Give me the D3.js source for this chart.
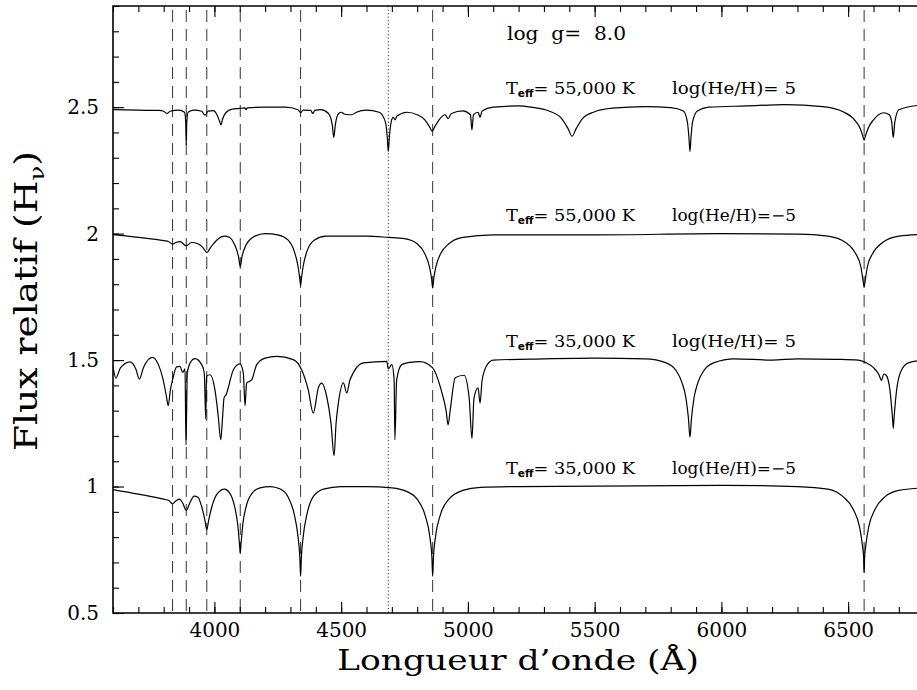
<!DOCTYPE html>
<html><head><meta charset="utf-8">
<script src="https://cdn.jsdelivr.net/npm/d3@7"></script>
<style>
body{margin:0;background:#fff}
svg{display:block}
text{font-family:"DejaVu Serif",serif;fill:#000}
</style>
</head><body>
<svg id="c" width="917" height="690"></svg>
<script>
// ---------- data ----------
const xTicksMajor = [4000,4500,5000,5500,6000,6500];
const xTickLabels = ["4000","4500","5000","5500","6000","6500"];
const yTicksMajor = [0.5,1,1.5,2,2.5];
const yTickLabels = ["0.5","1","1.5","2","2.5"];
const balmerLines = [3835,3889,3970,4102,4340,4861,6563];
const heIILines = [4686];
const modelTeff = ["55,000","55,000","35,000","35,000"];
const modelHeH = ["= 5","=\u22125","= 5","=\u22125"];
const modelLevel = [2.5,2.0,1.5,1.0];

// Teff=55000, log He/H = 5
const spec55He = [
[3600,2.49],[3700,2.488],[3780,2.487],[3800,2.484],[3813,2.475],[3825,2.484],[3860,2.488],
[3882,2.48],[3887,2.44],[3889,2.35],[3891,2.44],[3896,2.48],[3920,2.488],[3950,2.484],
[3963,2.468],[3975,2.484],[3995,2.486],[4010,2.47],[4020,2.445],[4026,2.43],[4032,2.452],
[4045,2.478],[4070,2.492],[4100,2.495],[4120,2.497],[4125,2.49],[4130,2.497],[4200,2.5],
[4280,2.5],[4330,2.49],[4340,2.478],[4350,2.488],[4380,2.487],[4388,2.475],[4396,2.487],
[4420,2.49],[4450,2.475],[4465,2.43],[4471,2.38],[4477,2.43],[4490,2.475],[4500,2.48],
[4515,2.472],[4541,2.47],[4560,2.48],[4600,2.488],[4650,2.48],[4675,2.44],[4682,2.38],
[4686,2.325],[4690,2.38],[4697,2.44],[4705,2.46],[4713,2.45],[4720,2.465],[4760,2.48],
[4800,2.47],[4830,2.45],[4850,2.42],[4859,2.405],[4868,2.42],[4890,2.455],[4910,2.47],
[4922,2.455],[4935,2.475],[4980,2.485],[5010,2.47],[5016,2.41],[5022,2.47],[5040,2.48],
[5048,2.46],[5056,2.485],[5100,2.5],[5200,2.505],[5250,2.5],[5320,2.485],[5370,2.455],
[5395,2.415],[5411,2.385],[5427,2.415],[5452,2.455],[5500,2.482],[5570,2.496],[5700,2.502],
[5800,2.498],[5850,2.485],[5866,2.44],[5872,2.38],[5876,2.325],[5880,2.38],[5886,2.44],
[5905,2.485],[5950,2.5],[6100,2.505],[6250,2.51],[6400,2.502],[6480,2.482],[6525,2.45],
[6548,2.415],[6558,2.385],[6563,2.37],[6568,2.385],[6578,2.415],[6600,2.45],[6640,2.478],
[6662,2.47],[6672,2.44],[6678,2.38],[6684,2.44],[6700,2.49],[6800,2.51]
];
// Teff=55000, log He/H = -5
const spec55H = [
[3600,1.996],[3700,1.985],[3800,1.972],[3820,1.968],[3835,1.958],[3850,1.966],[3865,1.968],
[3889,1.952],[3910,1.965],[3935,1.96],[3955,1.945],[3970,1.925],[3985,1.945],[4010,1.975],
[4040,1.99],[4060,1.985],[4080,1.955],[4095,1.91],[4102,1.87],[4109,1.91],[4125,1.955],
[4160,1.99],[4200,2.0],[4250,1.995],[4290,1.975],[4315,1.93],[4330,1.87],[4337,1.82],
[4340,1.795],[4343,1.82],[4350,1.87],[4365,1.93],[4395,1.975],[4440,1.99],[4600,1.99],
[4686,1.985],[4750,1.98],[4800,1.96],[4830,1.92],[4848,1.87],[4857,1.82],[4861,1.785],
[4865,1.82],[4874,1.87],[4892,1.92],[4925,1.96],[4980,1.985],[5100,1.995],[5500,1.995],
[6000,2.0],[6300,1.998],[6420,1.99],[6490,1.965],[6530,1.92],[6550,1.87],[6558,1.82],
[6563,1.79],[6568,1.82],[6576,1.87],[6596,1.92],[6636,1.965],[6700,1.99],[6800,1.997]
];
// Teff=35000, log He/H = 5
const spec35He = [
[3600,1.475],[3611,1.429],[3630,1.47],[3667,1.493],[3690,1.465],[3704,1.425],[3720,1.47],
[3755,1.511],[3780,1.48],[3798,1.422],[3810,1.36],[3818,1.32],[3826,1.38],[3835,1.422],
[3851,1.473],[3864,1.475],[3875,1.451],[3884,1.465],[3888,1.165],[3893,1.449],[3905,1.49],
[3923,1.506],[3950,1.482],[3960,1.449],[3966,1.267],[3969,1.436],[3983,1.442],[4002,1.383],
[4015,1.28],[4025,1.185],[4032,1.27],[4038,1.35],[4046,1.363],[4075,1.462],[4101,1.485],
[4114,1.449],[4121,1.32],[4127,1.409],[4147,1.422],[4167,1.482],[4200,1.508],[4246,1.515],
[4311,1.502],[4344,1.462],[4370,1.383],[4390,1.29],[4410,1.39],[4423,1.409],[4443,1.356],
[4460,1.25],[4472,1.122],[4480,1.25],[4489,1.33],[4509,1.41],[4522,1.37],[4535,1.422],
[4588,1.489],[4680,1.495],[4686,1.465],[4700,1.482],[4709,1.422],[4712,1.185],[4719,1.422],
[4739,1.482],[4772,1.491],[4811,1.494],[4860,1.47],[4895,1.38],[4914,1.3],[4922,1.244],
[4930,1.3],[4950,1.43],[4985,1.44],[5005,1.35],[5016,1.19],[5024,1.35],[5040,1.39],
[5048,1.33],[5056,1.42],[5075,1.48],[5100,1.5],[5300,1.505],[5500,1.508],[5700,1.505],
[5780,1.49],[5820,1.46],[5845,1.41],[5860,1.35],[5870,1.27],[5876,1.195],[5882,1.27],
[5892,1.35],[5907,1.41],[5932,1.46],[5972,1.49],[6050,1.505],[6200,1.5],[6300,1.505],
[6450,1.503],[6540,1.5],[6570,1.49],[6600,1.47],[6620,1.445],[6632,1.42],[6640,1.445],
[6650,1.44],[6665,1.38],[6675,1.27],[6678,1.23],[6681,1.27],[6691,1.38],[6710,1.46],
[6740,1.49],[6800,1.5]
];
// Teff=35000, log He/H = -5
const spec35H = [
[3600,0.988],[3700,0.97],[3800,0.95],[3820,0.945],[3835,0.932],[3850,0.945],[3862,0.95],
[3875,0.935],[3889,0.905],[3903,0.935],[3920,0.962],[3935,0.958],[3950,0.92],[3962,0.87],
[3970,0.83],[3978,0.87],[3990,0.92],[4010,0.97],[4040,0.99],[4060,0.975],[4080,0.92],
[4092,0.85],[4100,0.76],[4102,0.738],[4104,0.76],[4112,0.85],[4125,0.92],[4150,0.975],
[4180,0.995],[4220,1.0],[4260,0.99],[4290,0.96],[4315,0.89],[4330,0.8],[4337,0.72],
[4340,0.645],[4343,0.72],[4350,0.8],[4365,0.89],[4390,0.96],[4430,0.99],[4500,1.0],
[4600,1.0],[4700,0.995],[4760,0.98],[4800,0.95],[4830,0.89],[4850,0.8],[4858,0.72],
[4861,0.645],[4864,0.72],[4872,0.8],[4892,0.89],[4925,0.95],[4980,0.985],[5050,0.997],
[5200,1.0],[6000,1.005],[6300,1.0],[6420,0.99],[6480,0.96],[6520,0.91],[6545,0.84],
[6556,0.77],[6561,0.72],[6563,0.66],[6565,0.72],[6570,0.77],[6581,0.84],[6606,0.91],
[6646,0.96],[6700,0.985],[6800,0.995]
];
const spectra = [spec55He, spec55H, spec35He, spec35H];

// ---------- layout ----------
const svg = d3.select("#c");
const L = 113, B = 613, T = 6;
const x = d3.scaleLinear().domain([3600, 6800]).range([L, L + 3200*0.2535]);
const y = d3.scaleLinear().domain([0.5, 2.9]).range([B, T]);
const R = x.range()[1];

const defs = svg.append("defs");
defs.append("clipPath").attr("id","clip").append("rect")
  .attr("x",L).attr("y",T).attr("width",R-L).attr("height",B-T);

// reference lines
const g = svg.append("g");
g.selectAll(".bal").data(balmerLines).join("line")
  .attr("x1",d=>x(d)).attr("x2",d=>x(d)).attr("y1",T+4).attr("y2",B)
  .attr("stroke","#333").attr("stroke-width",1).attr("stroke-dasharray","12,7");
g.selectAll(".he2").data(heIILines).join("line")
  .attr("x1",d=>x(d)).attr("x2",d=>x(d)).attr("y1",T).attr("y2",B)
  .attr("stroke","#333").attr("stroke-width",1).attr("stroke-dasharray","1.2,2.3");

// spectra
const line = d3.line().x(d=>x(d[0])).y(d=>y(d[1])).curve(d3.curveMonotoneX);
svg.append("g").attr("clip-path","url(#clip)")
  .selectAll("path").data(spectra).join("path")
  .attr("d",line).attr("fill","none").attr("stroke","#000").attr("stroke-width",1.2);

// axes
const minorX = d3.range(3600, 6801, 100);
const minorY = d3.range(0.5, 2.91, 0.1).map(v=>+v.toFixed(2));
function styleAxis(sel){
  sel.select(".domain").remove();
  sel.selectAll(".tick line").attr("stroke","#000").attr("stroke-width",1.1);
  sel.selectAll("text").style("font-family","'DejaVu Serif',serif").style("font-size","20px").attr("fill","#000");
}
svg.append("g").attr("transform",`translate(0,${B})`)
  .call(d3.axisBottom(x).tickValues(minorX).tickSize(-6).tickFormat("")).call(styleAxis);
svg.append("g").attr("transform",`translate(0,${B})`)
  .call(d3.axisBottom(x).tickValues(xTicksMajor).tickSize(-11).tickPadding(10)
    .tickFormat((d,i)=>xTickLabels[i])).call(styleAxis);
svg.append("g").attr("transform",`translate(0,${T})`)
  .call(d3.axisTop(x).tickValues(minorX).tickSize(-6).tickFormat("")).call(styleAxis);
svg.append("g").attr("transform",`translate(0,${T})`)
  .call(d3.axisTop(x).tickValues(xTicksMajor).tickSize(-11).tickFormat("")).call(styleAxis);
svg.append("g").attr("transform",`translate(${L},0)`)
  .call(d3.axisLeft(y).tickValues(minorY).tickSize(-6).tickFormat("")).call(styleAxis);
svg.append("g").attr("transform",`translate(${L},0)`)
  .call(d3.axisLeft(y).tickValues(yTicksMajor).tickSize(-11).tickPadding(14)
    .tickFormat((d,i)=>yTickLabels[i])).call(styleAxis);

// frame
svg.append("path").attr("d",`M${R},${T}H${L}V${B}H${R}`)
  .attr("fill","none").attr("stroke","#000").attr("stroke-width",1.6);

// annotations
svg.append("text").attr("x",507).attr("y",40).style("font-size","18px")
  .attr("textLength",119).attr("lengthAdjust","spacingAndGlyphs")
  .style("white-space","pre").text("log  g=  8.0");

modelLevel.forEach((lv,i)=>{
  const by = y(lv) - 13;
  const t = svg.append("text").attr("x",506).attr("y",by).style("font-size","17px").style("white-space","pre")
    .attr("textLength",129).attr("lengthAdjust","spacingAndGlyphs");
  t.append("tspan").text("T");
  t.append("tspan").attr("dy",3).style("font-size","10px").style("font-weight","bold").style("font-family","'DejaVu Sans',sans-serif").text("eff");
  t.append("tspan").attr("dy",-3).text("= " + modelTeff[i] + " K");
  svg.append("text").attr("x",672).attr("y",by).style("font-size","16px").style("white-space","pre")
    .attr("textLength",124).attr("lengthAdjust","spacingAndGlyphs")
    .text("log(He/H)" + modelHeH[i]);
});

// axis titles
svg.append("text").attr("x",518).attr("y",670).attr("text-anchor","middle")
  .style("font-size","28px").attr("textLength",362).attr("lengthAdjust","spacingAndGlyphs")
  .text("Longueur d\u2019onde (\u00C5)");
const yt = svg.append("text").attr("transform","translate(37,301) rotate(-90)")
  .attr("text-anchor","middle").style("font-size","31px")
  .attr("textLength",300).attr("lengthAdjust","spacingAndGlyphs");
yt.append("tspan").text("Flux relatif (H");
yt.append("tspan").attr("dy",7).style("font-size","20px").text("\u03BD");
yt.append("tspan").attr("dy",-7).text(")");
</script>
</body></html>
